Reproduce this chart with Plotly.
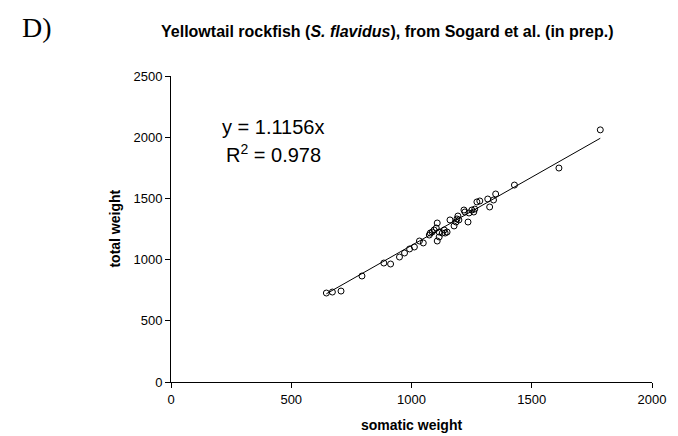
import plotly.graph_objects as go

# ---- data ----
somatic_weight = [646, 671, 707, 794, 885, 913, 950, 971, 992, 1012, 1033, 1049,
                  1074, 1078, 1086, 1094, 1103, 1107, 1107, 1115, 1115, 1128, 1136,
                  1140, 1148, 1160, 1177, 1185, 1189, 1193, 1197, 1218, 1222, 1235,
                  1239, 1251, 1259, 1263, 1272, 1284, 1317, 1325, 1341, 1350, 1428,
                  1613, 1785]
total_weight = [727, 735, 743, 866, 972, 964, 1021, 1054, 1087, 1103, 1152, 1136,
                1201, 1217, 1225, 1242, 1258, 1299, 1152, 1225, 1185, 1217, 1242,
                1217, 1225, 1324, 1275, 1307, 1332, 1356, 1324, 1405, 1389, 1307,
                1381, 1405, 1389, 1413, 1471, 1479, 1495, 1430, 1487, 1536, 1609,
                1748, 2060]
slope = 1.1156
r_squared = 0.978
x_ticks = [0, 500, 1000, 1500, 2000]
y_ticks = [0, 500, 1000, 1500, 2000, 2500]

title_text = "Yellowtail rockfish (<i>S. flavidus</i>), from Sogard et al. (in prep.)"

# ---- layout geometry (pixels) ----
W, H = 678, 436
L, R, T, B = 171, 657, 76, 382


def px(xp):
    return (xp - L) / (R - L)


def py(yp):
    return (B - yp) / (B - T)


FONT = "Liberation Sans, Arial, sans-serif"

fig = go.Figure()

x_min, x_max = min(somatic_weight), max(somatic_weight)
fig.add_trace(go.Scatter(
    x=[x_min, x_max], y=[slope * x_min, slope * x_max],
    mode="lines", line=dict(color="black", width=1),
    hoverinfo="skip", showlegend=False))

fig.add_trace(go.Scatter(
    x=somatic_weight, y=total_weight, mode="markers",
    marker=dict(symbol="circle-open", size=6, color="black",
                line=dict(color="black", width=1)),
    showlegend=False))

axis_common = dict(showline=True, linecolor="black", linewidth=1,
                   ticks="outside", ticklen=5, tickcolor="black", tickwidth=1,
                   showgrid=False, zeroline=False,
                   tickfont=dict(family=FONT, size=13, color="black"))

fig.update_layout(
    width=W, height=H,
    margin=dict(l=L, r=W - R, t=T, b=H - B, pad=0),
    paper_bgcolor="white", plot_bgcolor="white",
    xaxis=dict(range=[0, 2000], tickvals=x_ticks, **axis_common),
    yaxis=dict(range=[0, 2500], tickvals=y_ticks, **axis_common),
    font=dict(family=FONT, color="black"),
)

annotations = [
    dict(text="<b>" + title_text + "</b>", x=px(390), y=py(31),
         font=dict(family=FONT, size=16)),
    dict(text="D)", x=px(36), y=py(28),
         font=dict(family="Liberation Serif, Times New Roman, serif", size=28)),
    dict(text="y = %.4fx" % slope, x=px(274), y=py(127),
         font=dict(family=FONT, size=20)),
    dict(text="R<sup>2</sup> = %.3f" % r_squared, x=px(275), y=py(153),
         font=dict(family=FONT, size=20)),
    dict(text="<b>somatic weight</b>", x=px(414), y=py(425),
         font=dict(family=FONT, size=14)),
    dict(text="<b>total weight</b>", x=px(114), y=py(229), textangle=-90,
         font=dict(family=FONT, size=14)),
]
for a in annotations:
    fig.add_annotation(xref="paper", yref="paper", showarrow=False,
                       xanchor="center", yanchor="middle", **a)

fig.write_html("out.html")
